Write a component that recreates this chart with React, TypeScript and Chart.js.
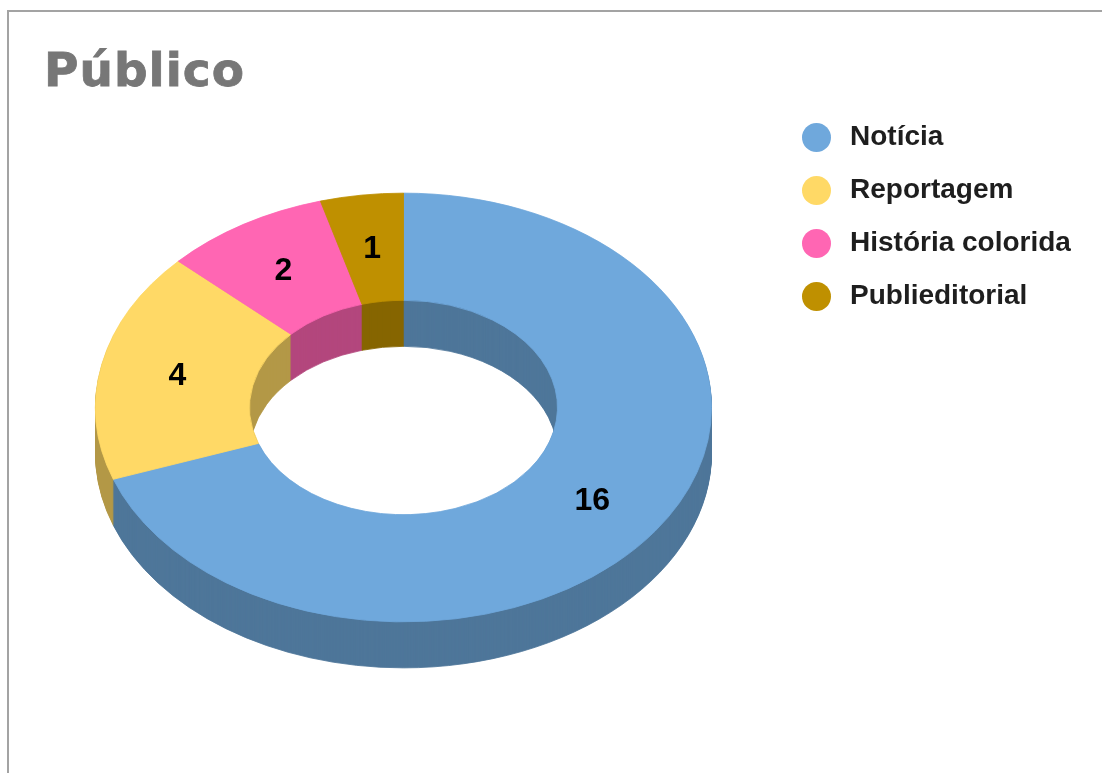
import React, { useEffect, useRef } from "react";
import { Chart, registerables } from "chart.js";

Chart.register(...registerables);

const TITLE = "Público";
const CATEGORIES = ["Notícia", "Reportagem", "História colorida", "Publieditorial"];
const VALUES = [16, 4, 2, 1];
const COLORS = ["#6fa8dc", "#ffd966", "#ff66b3", "#bf9000"];
const SIDE_COLORS = ["#4e769a", "#b39847", "#b3477d", "#866500"];

const TILT = 0.696;
const DEPTH = 46;
const FONT = '"Liberation Sans", Arial, sans-serif';

const threeD = {
  id: "threeD",
  beforeDatasetsDraw(chart: any) {
    const arcs = chart.getDatasetMeta(0).data;
    const ctx = chart.ctx;
    const cx = arcs[0].x;
    const cy = arcs[0].y;
    for (let d = DEPTH; d >= 1; d -= 1) {
      ctx.save();
      ctx.translate(cx, cy + d);
      ctx.scale(1, TILT);
      ctx.translate(-cx, -cy);
      arcs.forEach((arc: any, i: number) => {
        const { startAngle, endAngle, innerRadius, outerRadius } = arc.getProps(
          ["startAngle", "endAngle", "innerRadius", "outerRadius"],
          true
        );
        ctx.beginPath();
        ctx.arc(cx, cy, outerRadius, startAngle, endAngle);
        ctx.arc(cx, cy, innerRadius, endAngle, startAngle, true);
        ctx.closePath();
        ctx.fillStyle = SIDE_COLORS[i];
        ctx.strokeStyle = SIDE_COLORS[i];
        ctx.lineWidth = 1;
        ctx.fill();
        ctx.stroke();
      });
      ctx.restore();
    }
    ctx.save();
    ctx.translate(cx, cy);
    ctx.scale(1, TILT);
    ctx.translate(-cx, -cy);
  },
  afterDatasetsDraw(chart: any) {
    const ctx = chart.ctx;
    ctx.restore();
    const arcs = chart.getDatasetMeta(0).data;
    const cy = arcs[0].y;
    ctx.save();
    ctx.font = `bold 32px ${FONT}`;
    ctx.fillStyle = "#000000";
    ctx.textAlign = "center";
    ctx.textBaseline = "middle";
    arcs.forEach((arc: any, i: number) => {
      const p = arc.tooltipPosition(true);
      const y = cy + (p.y - cy) * TILT;
      ctx.fillText(String(VALUES[i]), p.x, y + 1);
    });
    ctx.restore();
  },
};

export default function App() {
  const ref = useRef<HTMLCanvasElement | null>(null);

  useEffect(() => {
    if (!ref.current) return;
    const chart = new Chart(ref.current, {
      type: "doughnut",
      data: {
        labels: CATEGORIES,
        datasets: [
          {
            data: VALUES,
            backgroundColor: COLORS,
            borderColor: COLORS,
            borderWidth: 1,
            clip: false as any,
          },
        ],
      },
      options: {
        responsive: false,
        animation: false,
        devicePixelRatio: 1,
        radius: 308,
        cutout: "50%",
        layout: { padding: { left: 95, right: 390, top: 100, bottom: 58 } },
        plugins: {
          legend: { display: false },
          tooltip: { enabled: false },
          title: { display: false },
        },
        events: [],
      } as any,
      plugins: [threeD],
    });
    return () => chart.destroy();
  }, []);

  return (
    <div
      style={{
        position: "fixed",
        left: 0,
        top: 0,
        width: 1102,
        height: 773,
        overflow: "hidden",
        background: "#ffffff",
      }}
    >
      <div
        style={{
          position: "absolute",
          left: 7,
          top: 10,
          width: 2000,
          height: 2000,
          borderTop: "2px solid #a3a3a3",
          borderLeft: "2px solid #a3a3a3",
        }}
      />
      <canvas
        ref={ref}
        width={1102}
        height={773}
        style={{ position: "absolute", left: 0, top: 0, width: 1102, height: 773 }}
      />
      <div
        style={{
          position: "absolute",
          left: 44,
          top: 40,
          font: 'bold 47px "DejaVu Sans", sans-serif',
          lineHeight: "60px",
          letterSpacing: "1px",
          color: "#777777",
          WebkitTextStroke: "0.8px #777777",
          whiteSpace: "nowrap",
        }}
      >
        {TITLE}
      </div>
      {CATEGORIES.map((c, i) => (
        <React.Fragment key={c}>
          <div
            style={{
              position: "absolute",
              left: 802,
              top: 123 + 53 * i,
              width: 29,
              height: 29,
              borderRadius: "50%",
              background: COLORS[i],
            }}
          />
          <div
            style={{
              position: "absolute",
              left: 850,
              top: 120 + 53 * i,
              font: `bold 28px ${FONT}`,
              lineHeight: "32px",
              color: "#1e1e1e",
              whiteSpace: "nowrap",
            }}
          >
            {c}
          </div>
        </React.Fragment>
      ))}
    </div>
  );
}
